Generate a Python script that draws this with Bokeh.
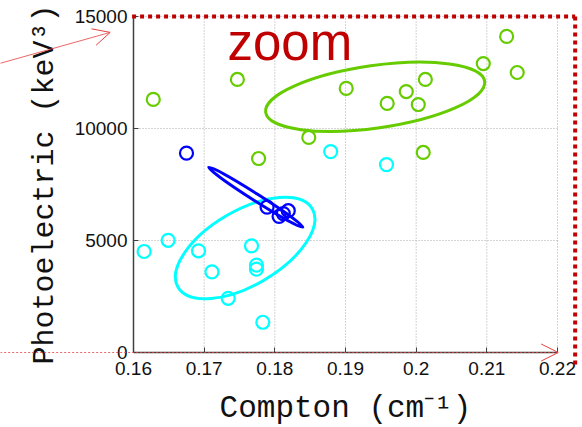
from bokeh.plotting import figure
from bokeh.models import Range1d, FixedTicker, Label, Arrow, OpenHead
from bokeh.embed import file_html
from bokeh.resources import INLINE

# ---- data ----
green_x = [0.1628, 0.1747, 0.1777, 0.1848, 0.1901, 0.1959, 0.1986, 0.2003, 0.2013, 0.2010, 0.2095, 0.2128, 0.2143]
green_y = [11300, 12190, 8660, 9600, 11790, 11120, 11650, 11070, 12190, 8930, 12900, 14110, 12500]

cyan_x = [0.1615, 0.1649, 0.1692, 0.1711, 0.1734, 0.1767, 0.1774, 0.1774, 0.1783, 0.1879, 0.1958]
cyan_y = [4510, 5010, 4540, 3600, 2420, 4760, 3900, 3720, 1350, 8970, 8390]

blue_x = [0.1675, 0.1789, 0.1806, 0.1819, 0.1812]
blue_y = [8900, 6490, 6080, 6330, 6200]

# covariance ellipses: centre, full width (x units), full height (y units), angle (rad)
ell_x = [0.1942, 0.1758, 0.1773]
ell_y = [11415, 4665, 6933]
ell_w = [0.0313, 0.0220, 0.0158]
ell_h = [2795, 3330, 312]
ell_angle = [0.141, 0.529, -0.567]
ell_color = ["#66cc00", "#00ffff", "#0000ff"]

x_ticks = [0.16, 0.17, 0.18, 0.19, 0.20, 0.21, 0.22]
x_tick_labels = ["0.16", "0.17", "0.18", "0.19", "0.2", "0.21", "0.22"]
y_ticks = [0, 5000, 10000, 15000]
y_tick_labels = ["0", "5000", "10000", "15000"]

# zoom-box decoration (data coords)
box_left_x = 0.1598
box_right_x = 0.2225
box_top_y = 15000
box_bottom_y = -656
zoom_label_x = 0.1733
zoom_label_y = 13840

# ---- layout: the frame fills the whole page, axes sit at fixed data locations ----
W, H = 582, 427
pad_left, pad_right, pad_top, pad_bottom = 133, 25, 16, 75
x0, x1 = x_ticks[0], x_ticks[-1]
y0, y1 = y_ticks[0], y_ticks[-1]
sx = (W - pad_left - pad_right) / (x1 - x0)
sy = (H - pad_top - pad_bottom) / (y1 - y0)

p = figure(width=W, height=H, output_backend="svg", toolbar_location=None,
           x_range=Range1d(x0 - pad_left / sx, x1 + pad_right / sx),
           y_range=Range1d(y0 - pad_bottom / sy, y1 + pad_top / sy),
           min_border=0, min_border_left=0, min_border_right=0,
           min_border_top=0, min_border_bottom=0)
p.outline_line_color = None
p.background_fill_color = "white"
p.border_fill_color = "white"

# grid (dotted, only inside the axes box)
p.xgrid.visible = False
p.ygrid.visible = False
p.segment(x0=x_ticks[1:], y0=[y0] * (len(x_ticks) - 1), x1=x_ticks[1:], y1=[y1] * (len(x_ticks) - 1),
          line_color="#a8a8a8", line_dash="1 2", line_width=1, level="underlay")
p.segment(x0=[x0] * (len(y_ticks) - 1), y0=y_ticks[1:], x1=[x1] * (len(y_ticks) - 1), y1=y_ticks[1:],
          line_color="#a8a8a8", line_dash="1 2", line_width=1, level="underlay")

# axes
p.xaxis.fixed_location = y0
p.yaxis.fixed_location = x0
p.xaxis.bounds = (x0, x1)
p.yaxis.bounds = (y0, y1)
p.xaxis.ticker = FixedTicker(ticks=x_ticks)
p.yaxis.ticker = FixedTicker(ticks=y_ticks)
p.xaxis.major_label_overrides = dict(zip(x_ticks, x_tick_labels))
p.yaxis.major_label_overrides = dict(zip(y_ticks, y_tick_labels))
for ax in (p.xaxis, p.yaxis):
    ax.axis_line_color = "#404040"
    ax.axis_line_width = 1.5
    ax.major_tick_line_color = "#404040"
    ax.major_tick_in = 5
    ax.major_tick_out = 0
    ax.minor_tick_line_color = None
    ax.major_label_text_font = "Liberation Sans"
    ax.major_label_text_font_size = "19px"
    ax.major_label_text_color = "#111111"
    ax.axis_label_text_font = "Liberation Mono"
    ax.axis_label_text_font_style = "normal"
    ax.axis_label_text_color = "#111111"
p.xaxis.axis_label_text_font_size = "31px"
p.yaxis.axis_label_text_font_size = "30px"
p.xaxis.axis_label = "Compton (cm\u207b\u00b9)"
p.yaxis.axis_label = "Photoelectric (keV\u00b3)"
p.xaxis.major_label_standoff = 9
p.yaxis.major_label_standoff = 6
p.xaxis.axis_label_standoff = 13
p.yaxis.axis_label_standoff = 10

# ellipses
p.ellipse(x=ell_x, y=ell_y, width=ell_w, height=ell_h, angle=ell_angle,
          fill_alpha=0, line_color=ell_color, line_width=3)

# points
p.scatter(green_x, green_y, marker="circle", size=13, fill_alpha=0,
          line_color="#66cc00", line_width=2.2)
p.scatter(cyan_x, cyan_y, marker="circle", size=13, fill_alpha=0,
          line_color="#00ffff", line_width=2.2)
p.scatter(blue_x, blue_y, marker="circle", size=13, fill_alpha=0,
          line_color="#0000ff", line_width=2.2)

# zoom text
p.add_layout(Label(x=zoom_label_x, y=zoom_label_y, text="zoom", text_font="Liberation Sans",
                   text_font_size="51px", text_color="#c00000", text_baseline="alphabetic"))

# dotted zoom box (top + right edge)
p.add_layout(Arrow(x_start=box_left_x, y_start=box_top_y, x_end=box_right_x, y_end=box_top_y,
                   end=None, line_color="#c00000", line_width=4, line_dash="4 4"))
p.add_layout(Arrow(x_start=box_right_x, y_start=box_top_y, x_end=box_right_x, y_end=box_bottom_y,
                   end=None, line_color="#c00000", line_width=4, line_dash="4 4"))

# thin red pointer arrows
p.add_layout(Arrow(x_start=0.1400, y_start=12810, x_end=0.1567, y_end=14290,
                   end=OpenHead(size=17, line_color="#e84040", line_width=1),
                   line_color="#e84040", line_width=1, line_alpha=0.8))
p.add_layout(Arrow(x_start=0.1400, y_start=0, x_end=0.2201, y_end=0,
                   end=OpenHead(size=17, line_color="#e84040", line_width=1),
                   line_color="#e84040", line_width=1, line_dash="2 2", line_alpha=0.8))

open("out.html", "w").write(file_html(p, INLINE))
